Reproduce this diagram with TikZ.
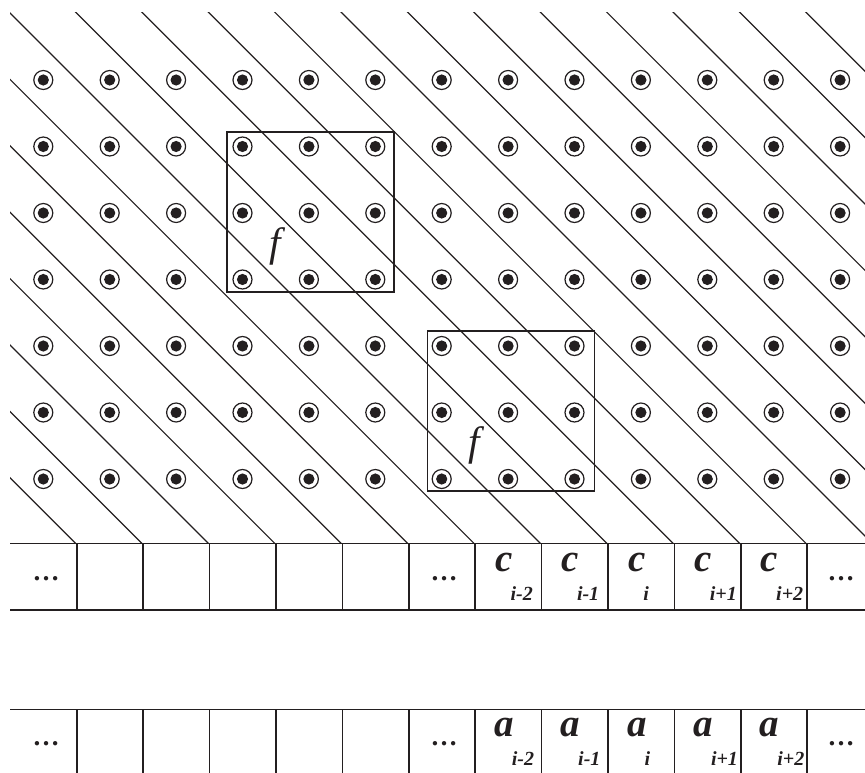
\documentclass[tikz,border=0pt]{standalone}
\usepackage{fontspec}
\setmainfont{Liberation Serif}
\definecolor{ink}{HTML}{231F20}
\newcommand\sublab[2]{{\fontsize{39}{39}\selectfont\bfseries\itshape #1}\kern-2pt\raisebox{-29pt}{\fontsize{20}{20}\selectfont\bfseries\itshape #2}}
\tikzset{
  diag/.style={draw=ink, line width=1.2pt},
  tabline/.style={draw=ink, line width=1.6pt},
  dotnode/.style={circle, draw=ink, line width=1.2pt, fill=white, minimum size=19pt, inner sep=0pt,
    path picture={\fill[ink] (path picture bounding box.center) circle (5.6pt);}},
  fbox/.style={draw=ink, line width=1.3pt, inner sep=0pt, minimum width=167pt, minimum height=160pt},
  fnode/.style={inner sep=0pt, text=ink, font=\fontsize{41}{41}\selectfont\itshape},
  lbl/.style={anchor=base west, inner sep=0pt, text=ink},
  ell/.style={anchor=base, inner sep=0pt, text=ink, font=\fontsize{27}{27}\selectfont\bfseries}
}
\begin{document}
\begin{tikzpicture}[x=1pt,y=-1pt]
\useasboundingbox (0,0) rectangle (865,773);
\clip (0,0) rectangle (865,773);
% diagonal lines
\begin{scope}
  \clip (10,13) rectangle (866,543.3);
  \foreach \m in {-13,...,7}{
    \draw[diag] (-600,{-597+66.4*\m}) -- (900,{903+66.4*\m});
  }
\end{scope}
% grid points
\foreach \i in {0,...,12}{
  \foreach \j in {0,...,6}{
    \node[dotnode] (d\i-\j) at ({43.3+66.4*\i},{80+66.5*\j}) {};
  }
}
% boxes
\node[fbox] (box1) at (310.5,212) {};
\node[fbox] (box2) at (511,411) {};
\node[fnode] (f1) at (275,246) {f};
\node[fnode] (f2) at (474,445) {f};
% c table
\draw[tabline] (10,543.3) -- (866,543.3);
\draw[tabline] (10,609.8) -- (866,609.8);
\foreach \n in {0,...,11}{
  \draw[tabline] ({76.7+66.4*\n},543.3) -- ({76.7+66.4*\n},609.8);
}
% a table
\draw[tabline] (10,709.3) -- (866,709.3);
\draw[tabline] (10,776) -- (866,776);
\foreach \n in {0,...,11}{
  \draw[tabline] ({76.7+66.4*\n},709.3) -- ({76.7+66.4*\n},776);
}
% ellipses
\node[ell] (ce1) at (46,580) {…};
\node[ell] (ce2) at (444,580) {…};
\node[ell] (ce3) at (841,580) {…};
\node[ell] (ae1) at (46,745) {…};
\node[ell] (ae2) at (444,745) {…};
\node[ell] (ae3) at (841,745) {…};
% c labels
\node[lbl] (cm2) at (495.1,571) {\sublab{c}{i-2}};
\node[lbl] (cm1) at (561.5,571) {\sublab{c}{i-1}};
\node[lbl] (c0)  at (627.9,571) {\sublab{c}{i}};
\node[lbl] (cp1) at (694.3,571) {\sublab{c}{i+1}};
\node[lbl] (cp2) at (760.7,571) {\sublab{c}{i+2}};
% a labels
\node[lbl] (am2) at (494.1,736) {\sublab{a}{i-2}};
\node[lbl] (am1) at (560.5,736) {\sublab{a}{i-1}};
\node[lbl] (a0)  at (626.9,736) {\sublab{a}{i}};
\node[lbl] (ap1) at (693.3,736) {\sublab{a}{i+1}};
\node[lbl] (ap2) at (759.7,736) {\sublab{a}{i+2}};
\end{tikzpicture}
\end{document}
